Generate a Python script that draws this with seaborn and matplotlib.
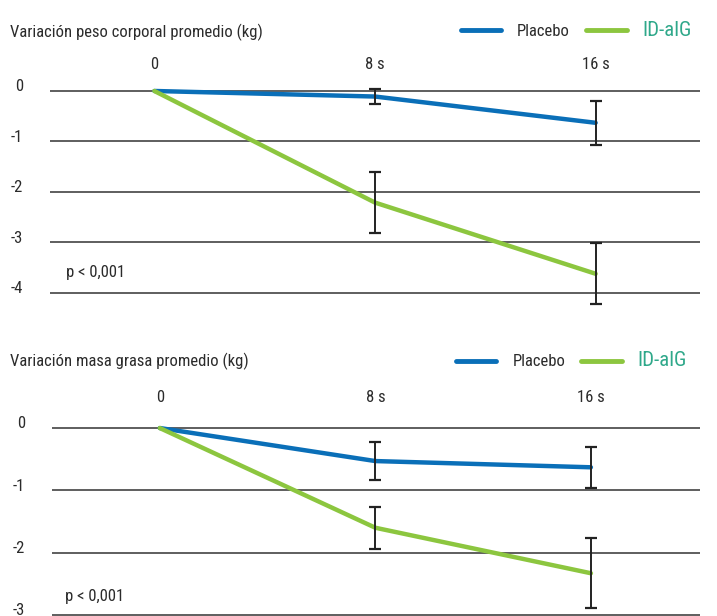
import pandas as pd
import seaborn as sns
import matplotlib.pyplot as plt
from matplotlib.lines import Line2D
from matplotlib.transforms import ScaledTranslation

# Data
time_labels = ["0", "8 s", "16 s"]
groups = ["Placebo", "ID-alG"]

# Variación peso corporal promedio (kg)
peso_placebo = [0, -0.11, -0.63]
peso_placebo_err = [0, 0.15, 0.43]
peso_idalg = [0, -2.21, -3.62]
peso_idalg_err = [0, 0.60, 0.60]

# Variación masa grasa promedio (kg)
grasa_placebo = [0, -0.53, -0.63]
grasa_placebo_err = [0, 0.30, 0.33]
grasa_idalg = [0, -1.60, -2.33]
grasa_idalg_err = [0, 0.34, 0.56]

peso_yticks = [0, -1, -2, -3, -4]
grasa_yticks = [0, -1, -2, -3]

colors = {"Placebo": "#0a6fb8", "ID-alG": "#8cc63f"}
text_color = "#2b2b2b"
fs = 12

sns.set_style("white")
plt.rcParams["font.family"] = ["Liberation Sans Narrow", "DejaVu Sans Condensed",
                               "Roboto Condensed", "Roboto", "DejaVu Sans"]
plt.rcParams["font.size"] = fs


def make_df(placebo, placebo_err, idalg, idalg_err):
    rows = []
    for i, t in enumerate(time_labels):
        rows.append({"pos": i, "tiempo": t, "grupo": "Placebo",
                     "media": placebo[i], "err": placebo_err[i]})
        rows.append({"pos": i, "tiempo": t, "grupo": "ID-alG",
                     "media": idalg[i], "err": idalg_err[i]})
    return pd.DataFrame(rows)


def draw_panel(ax, df, yticks, title, title_y, legend_x, legend_y, ptext_xy):
    sns.lineplot(data=df, x="pos", y="media", hue="grupo", hue_order=groups,
                 palette=colors, lw=3.2, ax=ax, legend=False, zorder=3)
    for g in groups:
        sub = df[(df["grupo"] == g) & (df["err"] > 0)]
        ax.errorbar(sub["pos"], sub["media"], yerr=sub["err"], fmt="none",
                    ecolor="#222222", elinewidth=1.4, capsize=4.3,
                    capthick=1.6, zorder=4, clip_on=False)

    ax.set_yticks(yticks)
    ax.set_yticklabels([str(v) for v in yticks])
    ax.set_xticks(range(len(time_labels)))
    ax.set_xticklabels(time_labels)
    ax.xaxis.tick_top()
    ax.tick_params(axis="x", length=0, pad=3, labelcolor=text_color, labelsize=fs)
    ax.tick_params(axis="y", length=0, pad=19.5, labelcolor=text_color, labelsize=fs)
    off = ScaledTranslation(0, 4 / 72, ax.figure.dpi_scale_trans)
    for lab in ax.get_yticklabels():
        lab.set_transform(lab.get_transform() + off)
    ax.grid(axis="y", color="#333333", lw=1.1)
    ax.grid(axis="x", visible=False)
    for s in ax.spines.values():
        s.set_visible(False)
    ax.set_xlabel("")
    ax.set_ylabel("")

    ax.figure.text(10 / 717, 1 - title_y / 616, title, ha="left", va="center",
                   color=text_color, fontsize=fs)
    ax.text(ptext_xy[0], ptext_xy[1], "p < 0,001", ha="left", va="center",
            color=text_color, fontsize=fs)

    handles = [Line2D([], [], color=colors[g], lw=3.5) for g in groups]
    leg = ax.figure.legend(handles, groups, loc="center right",
                           bbox_to_anchor=(legend_x / 717, 1 - legend_y / 616), ncol=2,
                           frameon=False, handlelength=2.45, handletextpad=0.95,
                           columnspacing=0.95, fontsize=fs,
                           labelcolor=[text_color, "#2fa88a"])
    leg.get_texts()[1].set_fontsize(15)


fig = plt.figure(figsize=(7.17, 6.16), dpi=100)

ax1 = fig.add_axes([50 / 717, 0.4998, 650 / 717, 0.3771])
draw_panel(ax1, make_df(peso_placebo, peso_placebo_err, peso_idalg, peso_idalg_err),
           peso_yticks, "Variación peso corporal promedio (kg)", 32, 707, 30, (-0.40, -3.6))
ax1.set_xlim(-0.473, 2.473)
ax1.set_ylim(-4.3, 0.3)

ax2 = fig.add_axes([52 / 717, 0.0006, 648 / 717, 0.3349])
draw_panel(ax2, make_df(grasa_placebo, grasa_placebo_err, grasa_idalg, grasa_idalg_err),
           grasa_yticks, "Variación masa grasa promedio (kg)", 361, 702, 361, (-0.44, -2.71))
ax2.set_xlim(-0.5, 2.506)
ax2.set_ylim(-3.01, 0.3)

fig.savefig("out.png", dpi=100)
